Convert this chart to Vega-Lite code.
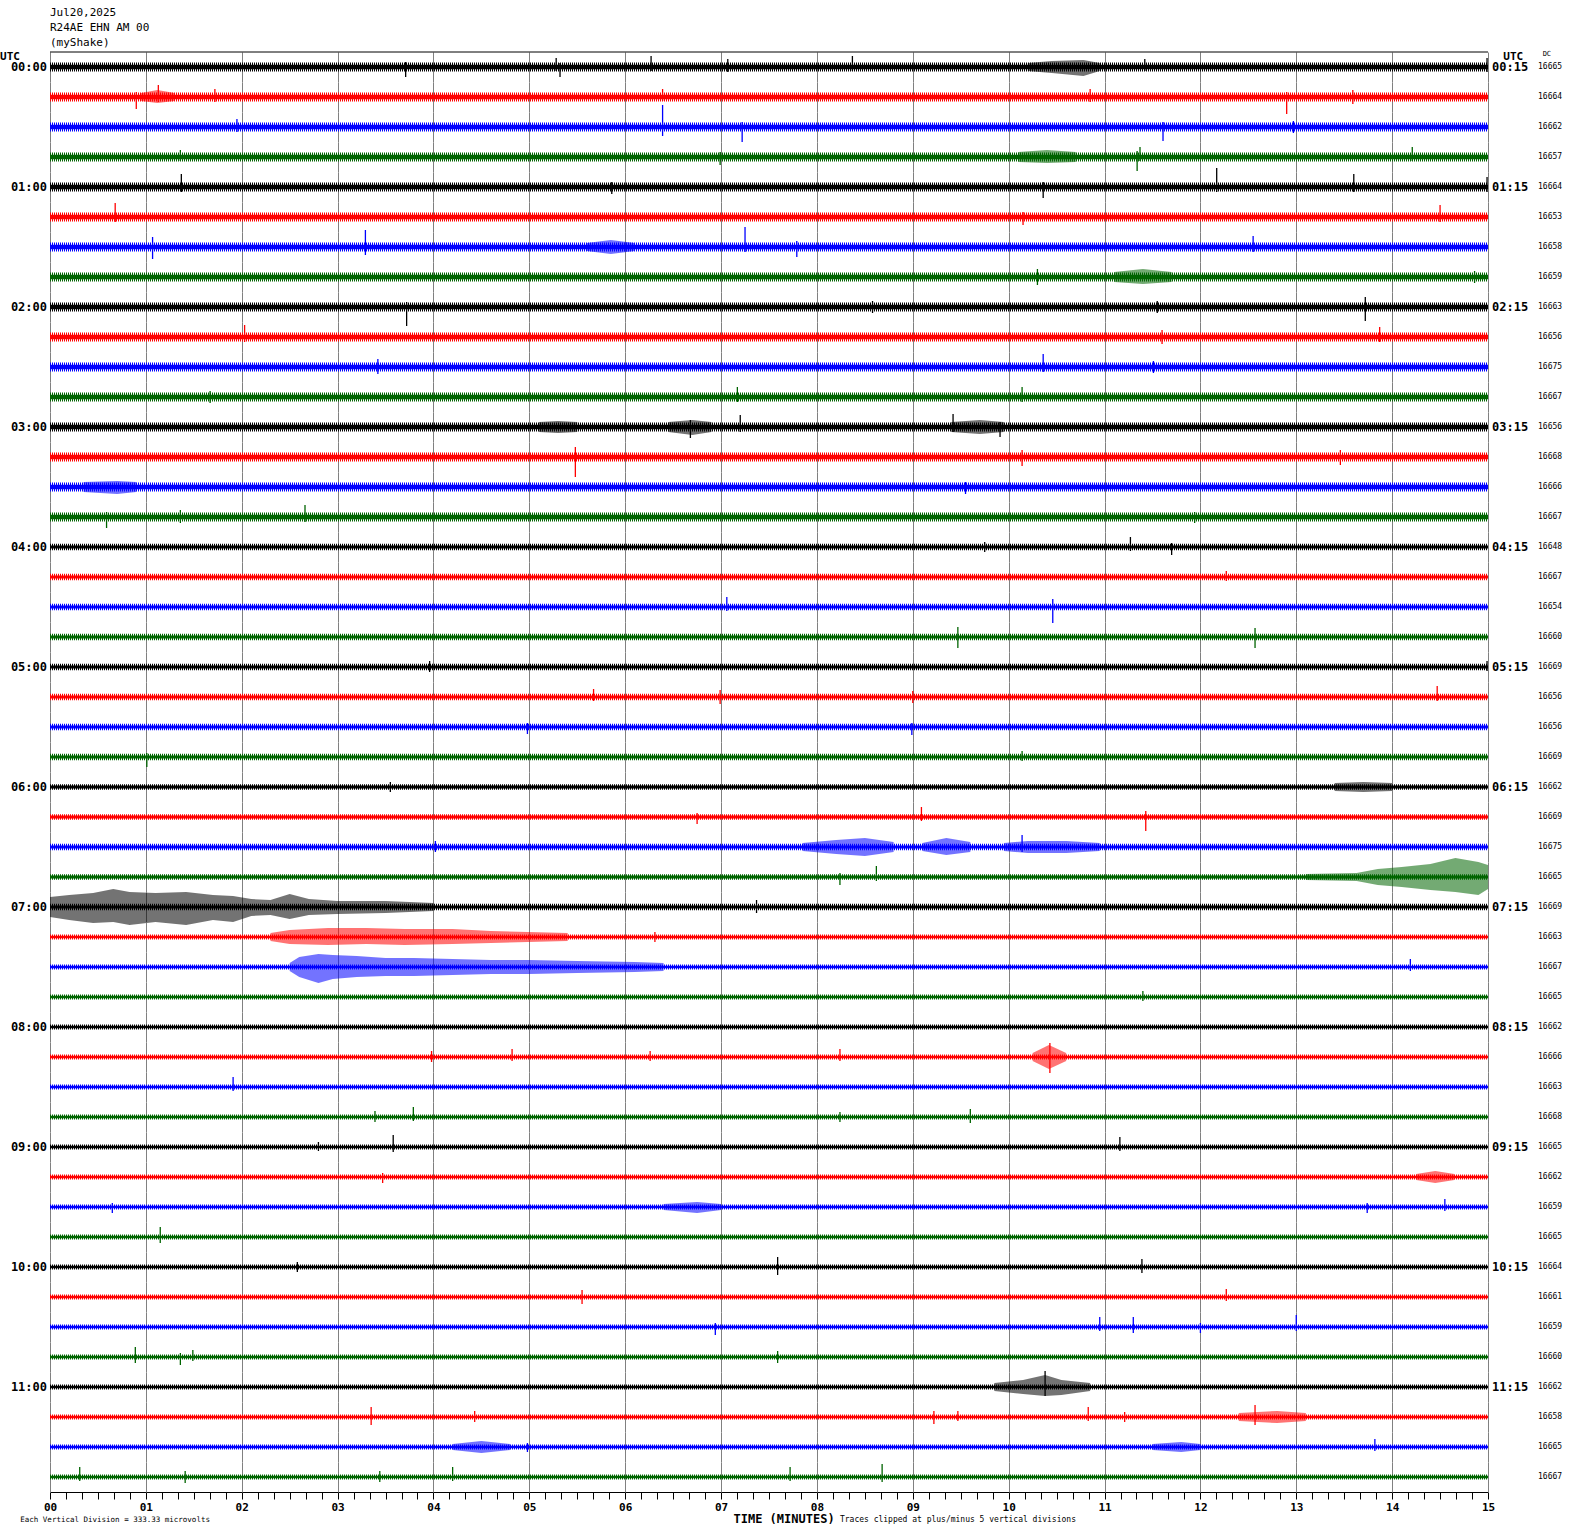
{
"$schema": "https://vega.github.io/schema/vega-lite/v6.json",
"background": "white",
"padding": {"left": 0, "top": 7, "right": 0, "bottom": 0},
"title": {"text": ["Jul20,2025", "R24AE EHN AM 00", "(myShake)"], "anchor": "start", "frame": "group", "font": "DejaVu Sans Mono", "fontSize": 11, "fontWeight": "normal", "lineHeight": 15, "offset": 2, "color": "black"},
"data": {"values": [
{"k":"tr","l":"00:00","dc":16665,"n":4.5,"r":"00:15"},
{"k":"tr","l":"00:15","dc":16664,"n":4.5},
{"k":"tr","l":"00:30","dc":16662,"n":4.5},
{"k":"tr","l":"00:45","dc":16657,"n":4.5},
{"k":"tr","l":"01:00","dc":16664,"n":4.5,"r":"01:15"},
{"k":"tr","l":"01:15","dc":16653,"n":4.5},
{"k":"tr","l":"01:30","dc":16658,"n":4.5},
{"k":"tr","l":"01:45","dc":16659,"n":4.5},
{"k":"tr","l":"02:00","dc":16663,"n":4.5,"r":"02:15"},
{"k":"tr","l":"02:15","dc":16656,"n":4.5},
{"k":"tr","l":"02:30","dc":16675,"n":4.5},
{"k":"tr","l":"02:45","dc":16667,"n":4.5},
{"k":"tr","l":"03:00","dc":16656,"n":4.5,"r":"03:15"},
{"k":"tr","l":"03:15","dc":16668,"n":4.5},
{"k":"tr","l":"03:30","dc":16666,"n":4.5},
{"k":"tr","l":"03:45","dc":16667,"n":4.5},
{"k":"tr","l":"04:00","dc":16648,"n":3.2,"r":"04:15"},
{"k":"tr","l":"04:15","dc":16667,"n":3.2},
{"k":"tr","l":"04:30","dc":16654,"n":3.2},
{"k":"tr","l":"04:45","dc":16660,"n":3.2},
{"k":"tr","l":"05:00","dc":16669,"n":3.2,"r":"05:15"},
{"k":"tr","l":"05:15","dc":16656,"n":3.2},
{"k":"tr","l":"05:30","dc":16656,"n":3.2},
{"k":"tr","l":"05:45","dc":16669,"n":3.2},
{"k":"tr","l":"06:00","dc":16662,"n":2.8,"r":"06:15"},
{"k":"tr","l":"06:15","dc":16669,"n":2.8},
{"k":"tr","l":"06:30","dc":16675,"n":3.2},
{"k":"tr","l":"06:45","dc":16665,"n":2.8},
{"k":"tr","l":"07:00","dc":16669,"n":3.2,"r":"07:15"},
{"k":"tr","l":"07:15","dc":16663,"n":2.6},
{"k":"tr","l":"07:30","dc":16667,"n":2.6},
{"k":"tr","l":"07:45","dc":16665,"n":2.6},
{"k":"tr","l":"08:00","dc":16662,"n":2.6,"r":"08:15"},
{"k":"tr","l":"08:15","dc":16666,"n":2.6},
{"k":"tr","l":"08:30","dc":16663,"n":2.6},
{"k":"tr","l":"08:45","dc":16668,"n":2.6},
{"k":"tr","l":"09:00","dc":16665,"n":2.6,"r":"09:15"},
{"k":"tr","l":"09:15","dc":16662,"n":2.6},
{"k":"tr","l":"09:30","dc":16659,"n":2.6},
{"k":"tr","l":"09:45","dc":16665,"n":2.6},
{"k":"tr","l":"10:00","dc":16664,"n":2.6,"r":"10:15"},
{"k":"tr","l":"10:15","dc":16661,"n":2.6},
{"k":"tr","l":"10:30","dc":16659,"n":2.6},
{"k":"tr","l":"10:45","dc":16660,"n":2.6},
{"k":"tr","l":"11:00","dc":16662,"n":2.6,"r":"11:15"},
{"k":"tr","l":"11:15","dc":16658,"n":2.6},
{"k":"tr","l":"11:30","dc":16665,"n":2.6},
{"k":"tr","l":"11:45","dc":16667,"n":2.6},

{"k":"s","l":"00:00","t":3.71,"lo":-10,"hi":5},
{"k":"s","l":"00:00","t":5.28,"lo":-4,"hi":9},
{"k":"s","l":"00:00","t":5.32,"lo":-10,"hi":4},
{"k":"s","l":"00:00","t":6.27,"lo":-4,"hi":11},
{"k":"s","l":"00:00","t":7.07,"lo":-5,"hi":8},
{"k":"s","l":"00:00","t":8.37,"lo":-4,"hi":11},
{"k":"s","l":"00:00","t":11.42,"lo":-4,"hi":8},
{"k":"s","l":"00:00","t":14.99,"lo":-5,"hi":9},
{"k":"s","l":"00:15","t":0.90,"lo":-12,"hi":5},
{"k":"s","l":"00:15","t":1.13,"lo":-5,"hi":12},
{"k":"s","l":"00:15","t":1.72,"lo":-5,"hi":8},
{"k":"s","l":"00:15","t":6.39,"lo":-4,"hi":8},
{"k":"s","l":"00:15","t":10.85,"lo":-5,"hi":8},
{"k":"s","l":"00:15","t":12.90,"lo":-17,"hi":5},
{"k":"s","l":"00:15","t":13.59,"lo":-7,"hi":7},
{"k":"s","l":"00:30","t":6.39,"lo":-9,"hi":22},
{"k":"s","l":"00:30","t":7.22,"lo":-15,"hi":5},
{"k":"s","l":"00:30","t":11.61,"lo":-14,"hi":5},
{"k":"s","l":"00:30","t":1.95,"lo":-5,"hi":8},
{"k":"s","l":"00:30","t":12.97,"lo":-6,"hi":6},
{"k":"s","l":"00:45","t":11.34,"lo":-14,"hi":6},
{"k":"s","l":"00:45","t":11.37,"lo":-4,"hi":10},
{"k":"s","l":"00:45","t":6.99,"lo":-8,"hi":5},
{"k":"s","l":"00:45","t":14.21,"lo":-4,"hi":10},
{"k":"s","l":"00:45","t":1.36,"lo":-4,"hi":7},
{"k":"s","l":"01:00","t":1.37,"lo":-5,"hi":13},
{"k":"s","l":"01:00","t":12.17,"lo":-5,"hi":19},
{"k":"s","l":"01:00","t":13.60,"lo":-5,"hi":13},
{"k":"s","l":"01:00","t":10.36,"lo":-11,"hi":5},
{"k":"s","l":"01:00","t":14.99,"lo":-5,"hi":10},
{"k":"s","l":"01:00","t":5.86,"lo":-7,"hi":5},
{"k":"s","l":"01:15","t":0.68,"lo":-5,"hi":14},
{"k":"s","l":"01:15","t":14.50,"lo":-5,"hi":12},
{"k":"s","l":"01:15","t":10.15,"lo":-8,"hi":5},
{"k":"s","l":"01:30","t":1.07,"lo":-12,"hi":10},
{"k":"s","l":"01:30","t":3.29,"lo":-8,"hi":17},
{"k":"s","l":"01:30","t":7.25,"lo":-5,"hi":20},
{"k":"s","l":"01:30","t":7.79,"lo":-10,"hi":6},
{"k":"s","l":"01:30","t":12.55,"lo":-5,"hi":11},
{"k":"s","l":"01:45","t":10.30,"lo":-8,"hi":8},
{"k":"s","l":"01:45","t":14.86,"lo":-6,"hi":6},
{"k":"s","l":"02:00","t":3.72,"lo":-19,"hi":5},
{"k":"s","l":"02:00","t":13.72,"lo":-14,"hi":10},
{"k":"s","l":"02:00","t":8.58,"lo":-6,"hi":6},
{"k":"s","l":"02:00","t":11.55,"lo":-6,"hi":6},
{"k":"s","l":"02:15","t":2.03,"lo":-5,"hi":12},
{"k":"s","l":"02:15","t":11.60,"lo":-7,"hi":7},
{"k":"s","l":"02:15","t":13.87,"lo":-5,"hi":10},
{"k":"s","l":"02:30","t":3.42,"lo":-7,"hi":8},
{"k":"s","l":"02:30","t":10.36,"lo":-5,"hi":13},
{"k":"s","l":"02:30","t":11.51,"lo":-6,"hi":6},
{"k":"s","l":"02:45","t":7.17,"lo":-5,"hi":10},
{"k":"s","l":"02:45","t":10.14,"lo":-5,"hi":10},
{"k":"s","l":"02:45","t":1.67,"lo":-6,"hi":6},
{"k":"s","l":"03:00","t":6.68,"lo":-11,"hi":7},
{"k":"s","l":"03:00","t":7.20,"lo":-5,"hi":12},
{"k":"s","l":"03:00","t":9.42,"lo":-5,"hi":13},
{"k":"s","l":"03:00","t":9.91,"lo":-10,"hi":5},
{"k":"s","l":"03:15","t":5.48,"lo":-20,"hi":10},
{"k":"s","l":"03:15","t":10.14,"lo":-9,"hi":7},
{"k":"s","l":"03:15","t":13.46,"lo":-8,"hi":7},
{"k":"s","l":"03:30","t":9.55,"lo":-7,"hi":5},
{"k":"s","l":"03:45","t":0.59,"lo":-11,"hi":5},
{"k":"s","l":"03:45","t":1.36,"lo":-6,"hi":7},
{"k":"s","l":"03:45","t":2.66,"lo":-5,"hi":12},
{"k":"s","l":"03:45","t":11.94,"lo":-6,"hi":5},
{"k":"s","l":"04:00","t":11.27,"lo":-4,"hi":10},
{"k":"s","l":"04:00","t":11.70,"lo":-8,"hi":4},
{"k":"s","l":"04:00","t":9.75,"lo":-5,"hi":5},
{"k":"s","l":"04:15","t":12.27,"lo":-4,"hi":6},
{"k":"s","l":"04:30","t":10.46,"lo":-16,"hi":8},
{"k":"s","l":"04:30","t":7.06,"lo":-4,"hi":10},
{"k":"s","l":"04:45","t":9.47,"lo":-11,"hi":10},
{"k":"s","l":"04:45","t":12.57,"lo":-11,"hi":9},
{"k":"s","l":"05:00","t":3.96,"lo":-5,"hi":6},
{"k":"s","l":"05:00","t":14.99,"lo":-4,"hi":6},
{"k":"s","l":"05:15","t":6.99,"lo":-7,"hi":7},
{"k":"s","l":"05:15","t":9.00,"lo":-6,"hi":6},
{"k":"s","l":"05:15","t":14.47,"lo":-4,"hi":11},
{"k":"s","l":"05:15","t":5.67,"lo":-4,"hi":8},
{"k":"s","l":"05:30","t":4.98,"lo":-7,"hi":4},
{"k":"s","l":"05:30","t":8.99,"lo":-8,"hi":4},
{"k":"s","l":"05:45","t":1.01,"lo":-10,"hi":4},
{"k":"s","l":"05:45","t":10.14,"lo":-4,"hi":6},
{"k":"s","l":"06:00","t":3.55,"lo":-5,"hi":5},
{"k":"s","l":"06:15","t":6.75,"lo":-7,"hi":4},
{"k":"s","l":"06:15","t":9.09,"lo":-4,"hi":10},
{"k":"s","l":"06:15","t":11.43,"lo":-14,"hi":6},
{"k":"s","l":"06:30","t":4.02,"lo":-5,"hi":6},
{"k":"s","l":"06:30","t":10.14,"lo":-5,"hi":12},
{"k":"s","l":"06:45","t":8.24,"lo":-8,"hi":4},
{"k":"s","l":"06:45","t":8.62,"lo":-4,"hi":11},
{"k":"s","l":"07:00","t":7.37,"lo":-6,"hi":7},
{"k":"s","l":"07:15","t":6.31,"lo":-5,"hi":5},
{"k":"s","l":"07:30","t":14.19,"lo":-4,"hi":8},
{"k":"s","l":"07:45","t":11.40,"lo":-4,"hi":6},
{"k":"s","l":"08:15","t":10.43,"lo":-16,"hi":14},
{"k":"s","l":"08:15","t":3.98,"lo":-5,"hi":6},
{"k":"s","l":"08:15","t":4.82,"lo":-4,"hi":8},
{"k":"s","l":"08:15","t":8.24,"lo":-4,"hi":8},
{"k":"s","l":"08:15","t":6.26,"lo":-4,"hi":6},
{"k":"s","l":"08:30","t":1.91,"lo":-4,"hi":10},
{"k":"s","l":"08:45","t":3.39,"lo":-5,"hi":6},
{"k":"s","l":"08:45","t":3.79,"lo":-4,"hi":10},
{"k":"s","l":"08:45","t":9.60,"lo":-6,"hi":8},
{"k":"s","l":"08:45","t":8.24,"lo":-5,"hi":5},
{"k":"s","l":"09:00","t":3.58,"lo":-5,"hi":12},
{"k":"s","l":"09:00","t":11.16,"lo":-4,"hi":10},
{"k":"s","l":"09:00","t":2.80,"lo":-4,"hi":5},
{"k":"s","l":"09:15","t":3.47,"lo":-6,"hi":4},
{"k":"s","l":"09:30","t":0.65,"lo":-6,"hi":4},
{"k":"s","l":"09:30","t":13.74,"lo":-6,"hi":4},
{"k":"s","l":"09:30","t":14.55,"lo":-4,"hi":8},
{"k":"s","l":"09:45","t":1.15,"lo":-6,"hi":10},
{"k":"s","l":"10:00","t":2.58,"lo":-5,"hi":5},
{"k":"s","l":"10:00","t":7.59,"lo":-8,"hi":10},
{"k":"s","l":"10:00","t":11.39,"lo":-6,"hi":8},
{"k":"s","l":"10:15","t":5.55,"lo":-7,"hi":7},
{"k":"s","l":"10:15","t":12.27,"lo":-4,"hi":8},
{"k":"s","l":"10:30","t":6.94,"lo":-8,"hi":4},
{"k":"s","l":"10:30","t":10.95,"lo":-4,"hi":10},
{"k":"s","l":"10:30","t":11.30,"lo":-6,"hi":10},
{"k":"s","l":"10:30","t":12.00,"lo":-6,"hi":4},
{"k":"s","l":"10:30","t":13.00,"lo":-4,"hi":12},
{"k":"s","l":"10:45","t":0.89,"lo":-6,"hi":10},
{"k":"s","l":"10:45","t":1.36,"lo":-8,"hi":4},
{"k":"s","l":"10:45","t":1.49,"lo":-4,"hi":7},
{"k":"s","l":"10:45","t":7.59,"lo":-6,"hi":6},
{"k":"s","l":"11:00","t":10.38,"lo":-9,"hi":16},
{"k":"s","l":"11:15","t":3.35,"lo":-8,"hi":10},
{"k":"s","l":"11:15","t":4.43,"lo":-5,"hi":6},
{"k":"s","l":"11:15","t":9.22,"lo":-7,"hi":6},
{"k":"s","l":"11:15","t":9.47,"lo":-4,"hi":6},
{"k":"s","l":"11:15","t":10.83,"lo":-4,"hi":10},
{"k":"s","l":"11:15","t":11.21,"lo":-5,"hi":5},
{"k":"s","l":"11:15","t":12.57,"lo":-8,"hi":12},
{"k":"s","l":"11:30","t":13.82,"lo":-4,"hi":8},
{"k":"s","l":"11:30","t":4.98,"lo":-5,"hi":4},
{"k":"s","l":"11:45","t":0.31,"lo":-4,"hi":10},
{"k":"s","l":"11:45","t":1.41,"lo":-6,"hi":6},
{"k":"s","l":"11:45","t":3.44,"lo":-5,"hi":6},
{"k":"s","l":"11:45","t":4.20,"lo":-4,"hi":10},
{"k":"s","l":"11:45","t":7.72,"lo":-4,"hi":10},
{"k":"s","l":"11:45","t":8.68,"lo":-5,"hi":13},

{"k":"b","l":"00:00","g":1,"t":10.2,"lo":-4,"hi":4},
{"k":"b","l":"00:00","g":1,"t":10.45,"lo":-6,"hi":6},
{"k":"b","l":"00:00","g":1,"t":10.78,"lo":-9,"hi":7},
{"k":"b","l":"00:00","g":1,"t":10.95,"lo":-4,"hi":4},
{"k":"b","l":"00:15","g":1,"t":0.95,"lo":-4,"hi":4},
{"k":"b","l":"00:15","g":1,"t":1.12,"lo":-6,"hi":7},
{"k":"b","l":"00:15","g":1,"t":1.3,"lo":-4,"hi":4},
{"k":"b","l":"00:45","g":1,"t":10.1,"lo":-5,"hi":5},
{"k":"b","l":"00:45","g":1,"t":10.4,"lo":-6,"hi":7},
{"k":"b","l":"00:45","g":1,"t":10.7,"lo":-5,"hi":5},
{"k":"b","l":"01:30","g":1,"t":5.6,"lo":-4,"hi":4},
{"k":"b","l":"01:30","g":1,"t":5.85,"lo":-7,"hi":7},
{"k":"b","l":"01:30","g":1,"t":6.1,"lo":-4,"hi":4},
{"k":"b","l":"01:45","g":1,"t":11.1,"lo":-5,"hi":5},
{"k":"b","l":"01:45","g":1,"t":11.4,"lo":-7,"hi":8},
{"k":"b","l":"01:45","g":1,"t":11.7,"lo":-5,"hi":5},
{"k":"b","l":"03:00","g":1,"t":6.45,"lo":-5,"hi":5},
{"k":"b","l":"03:00","g":1,"t":6.7,"lo":-8,"hi":7},
{"k":"b","l":"03:00","g":1,"t":6.9,"lo":-5,"hi":5},
{"k":"b","l":"03:00","g":2,"t":9.4,"lo":-5,"hi":5},
{"k":"b","l":"03:00","g":2,"t":9.7,"lo":-7,"hi":7},
{"k":"b","l":"03:00","g":2,"t":9.95,"lo":-5,"hi":5},
{"k":"b","l":"03:00","g":3,"t":5.1,"lo":-5,"hi":5},
{"k":"b","l":"03:00","g":3,"t":5.3,"lo":-6,"hi":6},
{"k":"b","l":"03:00","g":3,"t":5.5,"lo":-5,"hi":5},
{"k":"b","l":"03:30","g":1,"t":0.35,"lo":-5,"hi":5},
{"k":"b","l":"03:30","g":1,"t":0.7,"lo":-7,"hi":6},
{"k":"b","l":"03:30","g":1,"t":0.9,"lo":-5,"hi":5},
{"k":"b","l":"06:00","g":1,"t":13.4,"lo":-4,"hi":4},
{"k":"b","l":"06:00","g":1,"t":13.7,"lo":-5,"hi":5},
{"k":"b","l":"06:00","g":1,"t":14.0,"lo":-4,"hi":4},
{"k":"b","l":"06:30","g":1,"t":7.85,"lo":-4,"hi":4},
{"k":"b","l":"06:30","g":1,"t":8.2,"lo":-7,"hi":7},
{"k":"b","l":"06:30","g":1,"t":8.5,"lo":-9,"hi":9},
{"k":"b","l":"06:30","g":1,"t":8.8,"lo":-5,"hi":5},
{"k":"b","l":"06:30","g":2,"t":9.1,"lo":-4,"hi":4},
{"k":"b","l":"06:30","g":2,"t":9.35,"lo":-8,"hi":9},
{"k":"b","l":"06:30","g":2,"t":9.6,"lo":-5,"hi":5},
{"k":"b","l":"06:30","g":3,"t":9.95,"lo":-4,"hi":4},
{"k":"b","l":"06:30","g":3,"t":10.2,"lo":-6,"hi":6},
{"k":"b","l":"06:30","g":3,"t":10.6,"lo":-6,"hi":6},
{"k":"b","l":"06:30","g":3,"t":10.95,"lo":-4,"hi":4},
{"k":"b","l":"06:45","g":1,"t":13.1,"lo":-3,"hi":3},
{"k":"b","l":"06:45","g":1,"t":13.63,"lo":-4,"hi":4},
{"k":"b","l":"06:45","g":1,"t":13.85,"lo":-8,"hi":8},
{"k":"b","l":"06:45","g":1,"t":14.1,"lo":-10,"hi":10},
{"k":"b","l":"06:45","g":1,"t":14.4,"lo":-13,"hi":13},
{"k":"b","l":"06:45","g":1,"t":14.66,"lo":-15,"hi":19},
{"k":"b","l":"06:45","g":1,"t":14.9,"lo":-18,"hi":15},
{"k":"b","l":"06:45","g":1,"t":15.0,"lo":-12,"hi":12},
{"k":"b","l":"07:00","g":1,"t":0,"lo":-10,"hi":10},
{"k":"b","l":"07:00","g":1,"t":0.2,"lo":-13,"hi":12},
{"k":"b","l":"07:00","g":1,"t":0.45,"lo":-16,"hi":14},
{"k":"b","l":"07:00","g":1,"t":0.66,"lo":-15,"hi":18},
{"k":"b","l":"07:00","g":1,"t":0.83,"lo":-18,"hi":15},
{"k":"b","l":"07:00","g":1,"t":1.1,"lo":-15,"hi":14},
{"k":"b","l":"07:00","g":1,"t":1.42,"lo":-18,"hi":15},
{"k":"b","l":"07:00","g":1,"t":1.7,"lo":-13,"hi":12},
{"k":"b","l":"07:00","g":1,"t":1.91,"lo":-15,"hi":11},
{"k":"b","l":"07:00","g":1,"t":2.1,"lo":-9,"hi":8},
{"k":"b","l":"07:00","g":1,"t":2.3,"lo":-8,"hi":7},
{"k":"b","l":"07:00","g":1,"t":2.5,"lo":-12,"hi":13},
{"k":"b","l":"07:00","g":1,"t":2.7,"lo":-8,"hi":8},
{"k":"b","l":"07:00","g":1,"t":3.0,"lo":-7,"hi":6},
{"k":"b","l":"07:00","g":1,"t":3.5,"lo":-6,"hi":6},
{"k":"b","l":"07:00","g":1,"t":4.0,"lo":-4,"hi":4},
{"k":"b","l":"07:15","g":1,"t":2.3,"lo":-4,"hi":4},
{"k":"b","l":"07:15","g":1,"t":2.5,"lo":-7,"hi":7},
{"k":"b","l":"07:15","g":1,"t":2.9,"lo":-8,"hi":9},
{"k":"b","l":"07:15","g":1,"t":3.3,"lo":-7,"hi":9},
{"k":"b","l":"07:15","g":1,"t":3.7,"lo":-8,"hi":8},
{"k":"b","l":"07:15","g":1,"t":4.2,"lo":-7,"hi":8},
{"k":"b","l":"07:15","g":1,"t":4.6,"lo":-6,"hi":6},
{"k":"b","l":"07:15","g":1,"t":5.4,"lo":-4,"hi":4},
{"k":"b","l":"07:30","g":1,"t":2.5,"lo":-4,"hi":4},
{"k":"b","l":"07:30","g":1,"t":2.6,"lo":-10,"hi":10},
{"k":"b","l":"07:30","g":1,"t":2.8,"lo":-16,"hi":13},
{"k":"b","l":"07:30","g":1,"t":2.95,"lo":-12,"hi":12},
{"k":"b","l":"07:30","g":1,"t":3.2,"lo":-10,"hi":11},
{"k":"b","l":"07:30","g":1,"t":3.5,"lo":-9,"hi":9},
{"k":"b","l":"07:30","g":1,"t":3.8,"lo":-9,"hi":9},
{"k":"b","l":"07:30","g":1,"t":4.2,"lo":-8,"hi":8},
{"k":"b","l":"07:30","g":1,"t":4.6,"lo":-7,"hi":7},
{"k":"b","l":"07:30","g":1,"t":5.0,"lo":-7,"hi":7},
{"k":"b","l":"07:30","g":1,"t":5.5,"lo":-6,"hi":6},
{"k":"b","l":"07:30","g":1,"t":6.1,"lo":-5,"hi":5},
{"k":"b","l":"07:30","g":1,"t":6.4,"lo":-4,"hi":4},
{"k":"b","l":"08:15","g":1,"t":10.25,"lo":-4,"hi":4},
{"k":"b","l":"08:15","g":1,"t":10.42,"lo":-12,"hi":12},
{"k":"b","l":"08:15","g":1,"t":10.6,"lo":-4,"hi":4},
{"k":"b","l":"09:15","g":1,"t":14.25,"lo":-3,"hi":3},
{"k":"b","l":"09:15","g":1,"t":14.45,"lo":-6,"hi":6},
{"k":"b","l":"09:15","g":1,"t":14.65,"lo":-3,"hi":3},
{"k":"b","l":"09:30","g":1,"t":6.4,"lo":-3,"hi":3},
{"k":"b","l":"09:30","g":1,"t":6.75,"lo":-6,"hi":5},
{"k":"b","l":"09:30","g":1,"t":7.0,"lo":-3,"hi":3},
{"k":"b","l":"11:00","g":1,"t":9.85,"lo":-4,"hi":4},
{"k":"b","l":"11:00","g":1,"t":10.15,"lo":-7,"hi":7},
{"k":"b","l":"11:00","g":1,"t":10.38,"lo":-9,"hi":12},
{"k":"b","l":"11:00","g":1,"t":10.55,"lo":-8,"hi":7},
{"k":"b","l":"11:00","g":1,"t":10.85,"lo":-4,"hi":4},
{"k":"b","l":"11:15","g":1,"t":12.4,"lo":-4,"hi":4},
{"k":"b","l":"11:15","g":1,"t":12.8,"lo":-6,"hi":6},
{"k":"b","l":"11:15","g":1,"t":13.1,"lo":-4,"hi":4},
{"k":"b","l":"11:30","g":1,"t":4.2,"lo":-3,"hi":3},
{"k":"b","l":"11:30","g":1,"t":4.5,"lo":-6,"hi":6},
{"k":"b","l":"11:30","g":1,"t":4.8,"lo":-3,"hi":3},
{"k":"b","l":"11:30","g":2,"t":11.5,"lo":-3,"hi":3},
{"k":"b","l":"11:30","g":2,"t":11.8,"lo":-5,"hi":5},
{"k":"b","l":"11:30","g":2,"t":12.0,"lo":-3,"hi":3}
]},
"facet": {"row": {"field": "l", "type": "ordinal", "title": null, "header": {"labels": false, "title": null, "labelPadding": 0, "titlePadding": 0}}},
"spacing": 0,
"bounds": "flush",
"spec": {
  "width": 1438,
  "height": 30,
  "layer": [
    {"transform": [{"filter": "datum.k=='tr'"}],
     "mark": {"type": "rule", "strokeDash": [1, 1], "strokeCap": "butt"},
     "encoding": {
       "x": {"datum": 0, "type": "quantitative", "scale": {"domain": [0, 15], "nice": false, "zero": false}},
       "x2": {"datum": 15},
       "y": {"datum": 0, "type": "quantitative", "scale": {"domain": [-15, 15], "nice": false, "zero": false}, "axis": null},
       "color": {"field": "l", "type": "nominal", "scale": {"range": ["#000000", "#ff0000", "#0000ff", "#006400"]}, "legend": null},
       "strokeWidth": {"field": "n", "type": "quantitative", "scale": {"domain": [0, 5], "range": [0, 10]}, "legend": null}
     }},
    {"transform": [{"filter": "datum.k=='tr'"}],
     "mark": {"type": "rule", "strokeCap": "butt"},
     "encoding": {
       "x": {"datum": 0, "type": "quantitative"},
       "x2": {"datum": 15},
       "y": {"datum": 0, "type": "quantitative"},
       "color": {"field": "l", "type": "nominal", "legend": null},
       "strokeWidth": {"field": "n", "type": "quantitative", "scale": {"domain": [0, 5], "range": [0, 5]}, "legend": null}
     }},
    {"transform": [{"filter": "datum.k=='b'"}],
     "mark": {"type": "area", "opacity": 0.55, "interpolate": "linear"},
     "encoding": {
       "x": {"field": "t", "type": "quantitative"},
       "y": {"field": "lo", "type": "quantitative"},
       "y2": {"field": "hi"},
       "detail": {"field": "g", "type": "nominal"},
       "color": {"field": "l", "type": "nominal", "legend": null}
     }},
    {"transform": [{"filter": "datum.k=='s'"}],
     "mark": {"type": "rule", "strokeWidth": 1.3},
     "encoding": {
       "x": {"field": "t", "type": "quantitative",
         "axis": {
           "values": [0,0.1667,0.3333,0.5,0.6667,0.8333,1,1.1667,1.3333,1.5,1.6667,1.8333,2,2.1667,2.3333,2.5,2.6667,2.8333,3,3.1667,3.3333,3.5,3.6667,3.8333,4,4.1667,4.3333,4.5,4.6667,4.8333,5,5.1667,5.3333,5.5,5.6667,5.8333,6,6.1667,6.3333,6.5,6.6667,6.8333,7,7.1667,7.3333,7.5,7.6667,7.8333,8,8.1667,8.3333,8.5,8.6667,8.8333,9,9.1667,9.3333,9.5,9.6667,9.8333,10,10.1667,10.3333,10.5,10.6667,10.8333,11,11.1667,11.3333,11.5,11.6667,11.8333,12,12.1667,12.3333,12.5,12.6667,12.8333,13,13.1667,13.3333,13.5,13.6667,13.8333,14,14.1667,14.3333,14.5,14.6667,14.8333,15],
           "tickCount": 200,
           "labelExpr": "abs(datum.value-round(datum.value))<0.01 ? (datum.value<9.5?'0':'')+round(datum.value) : ''",
           "grid": true,
           "gridColor": "#808080",
           "gridWidth": 1,
           "gridOpacity": {"condition": {"test": "abs(datum.value-round(datum.value))<0.01", "value": 1}, "value": 0},
           "tickSize": 7, "tickColor": "black", "tickWidth": 1,
           "domainColor": "black", "domainWidth": 1,
           "labelFont": "DejaVu Sans Mono", "labelFontWeight": "bold", "labelFontSize": 11, "labelColor": "black",
           "labelOverlap": false, "labelFlush": false, "labelPadding": 2,
           "title": "TIME (MINUTES)", "titleFont": "DejaVu Sans Mono", "titleFontSize": 12, "titleFontWeight": "bold", "titleColor": "black",
           "titleX": 683, "titleY": 26, "titleAlign": "left", "titleBaseline": "middle", "titleAngle": 0
         }},
       "y": {"field": "lo", "type": "quantitative"},
       "y2": {"field": "hi"},
       "color": {"field": "l", "type": "nominal", "legend": null}
     }},
    {"transform": [{"filter": "datum.k=='tr' && substring(datum.l,3)=='00'"}],
     "mark": {"type": "text", "align": "right", "baseline": "middle", "dx": -3, "font": "DejaVu Sans Mono", "fontWeight": "bold", "fontSize": 12, "color": "black"},
     "encoding": {
       "x": {"datum": 0, "type": "quantitative"},
       "y": {"datum": 0, "type": "quantitative"},
       "text": {"field": "l"}
     }},
    {"transform": [{"filter": "datum.k=='tr' && isValid(datum.r)"}],
     "mark": {"type": "text", "align": "left", "baseline": "middle", "dx": 4, "font": "DejaVu Sans Mono", "fontWeight": "bold", "fontSize": 12, "color": "black"},
     "encoding": {
       "x": {"datum": 15, "type": "quantitative"},
       "y": {"datum": 0, "type": "quantitative"},
       "text": {"field": "r"}
     }},
    {"transform": [{"filter": "datum.k=='tr'"}],
     "mark": {"type": "text", "align": "left", "baseline": "middle", "dx": 50, "font": "DejaVu Sans Mono", "fontSize": 8, "color": "black"},
     "encoding": {
       "x": {"datum": 15, "type": "quantitative"},
       "y": {"datum": 0, "type": "quantitative"},
       "text": {"field": "dc"}
     }},
    {"transform": [{"filter": "datum.k=='tr' && datum.l=='00:00'"}],
     "mark": {"type": "text", "text": "UTC", "align": "left", "baseline": "middle", "font": "DejaVu Sans Mono", "fontWeight": "bold", "fontSize": 11, "color": "black"},
     "encoding": {
       "x": {"datum": -0.5215, "type": "quantitative"},
       "y": {"datum": 10, "type": "quantitative"}
     }},
    {"transform": [{"filter": "datum.k=='tr' && datum.l=='00:00'"}],
     "mark": {"type": "text", "text": "UTC", "align": "left", "baseline": "middle", "font": "DejaVu Sans Mono", "fontWeight": "bold", "fontSize": 11, "color": "black"},
     "encoding": {
       "x": {"datum": 15.16, "type": "quantitative"},
       "y": {"datum": 10, "type": "quantitative"}
     }},
    {"transform": [{"filter": "datum.k=='tr' && datum.l=='00:00'"}],
     "mark": {"type": "text", "text": "DC", "align": "left", "baseline": "middle", "font": "DejaVu Sans Mono", "fontSize": 7, "color": "black"},
     "encoding": {
       "x": {"datum": 15.57, "type": "quantitative"},
       "y": {"datum": 13, "type": "quantitative"}
     }},
    {"transform": [{"filter": "datum.k=='tr' && datum.l=='00:00'"}],
     "mark": {"type": "rule", "color": "black", "strokeWidth": 1},
     "encoding": {
       "x": {"datum": 0, "type": "quantitative"},
       "x2": {"datum": 15},
       "y": {"datum": 15, "type": "quantitative"}
     }},
    {"transform": [{"filter": "datum.k=='tr' && datum.l=='11:45'"}],
     "mark": {"type": "text", "text": "Each Vertical Division =  333.33 microvolts", "align": "left", "baseline": "middle", "font": "DejaVu Sans Mono", "fontSize": 7.5, "color": "black"},
     "encoding": {
       "x": {"datum": -0.31, "type": "quantitative"},
       "y": {"datum": -43, "type": "quantitative"}
     }},
    {"transform": [{"filter": "datum.k=='tr' && datum.l=='11:45'"}],
     "mark": {"type": "text", "text": "Traces clipped at plus/minus 5 vertical divisions", "align": "left", "baseline": "middle", "font": "DejaVu Sans Mono", "fontSize": 8, "color": "black"},
     "encoding": {
       "x": {"datum": 8.24, "type": "quantitative"},
       "y": {"datum": -43, "type": "quantitative"}
     }}
  ],
  "resolve": {"scale": {"strokeWidth": "independent"}}
},
"config": {"view": {"stroke": null}, "font": "DejaVu Sans Mono"}
}
